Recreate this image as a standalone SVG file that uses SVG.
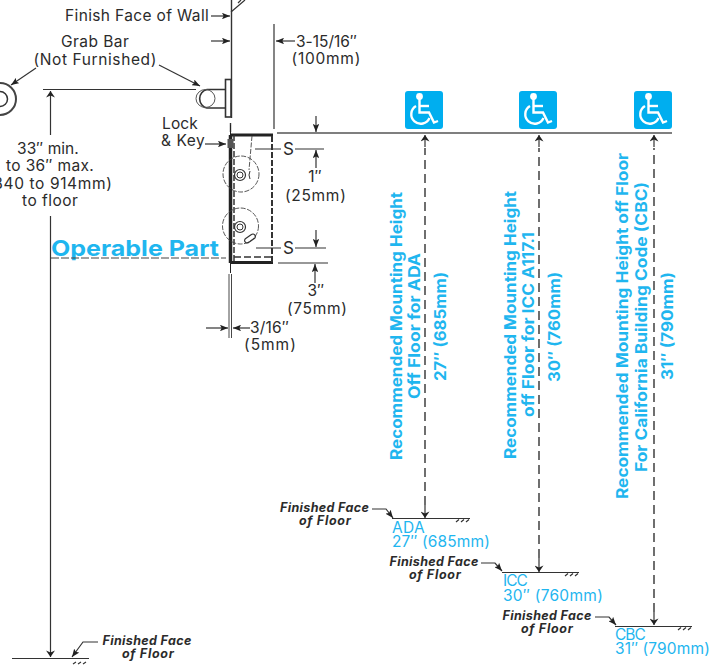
<svg xmlns="http://www.w3.org/2000/svg" width="719" height="667" viewBox="0 0 719 667">
<style>
text{font-family:Inter,"Liberation Sans",sans-serif;fill:#2b2b2b;font-size:15.500px;letter-spacing:.2px}
.m{text-anchor:middle}
.ff{font-weight:700;font-style:italic;font-size:12.500px;text-anchor:middle}
.b{fill:#1fb6ef;font-size:15.500px}
.r{fill:#1fb6ef;font-weight:700;font-size:16px;text-anchor:middle;letter-spacing:0}
.l{fill:none;stroke:#333;stroke-width:1.200}
.d{fill:none;stroke:#222;stroke-width:1.300;stroke-dasharray:9 5}
.th{fill:none;stroke:#222;stroke-width:3}
.dt{fill:none;stroke:#333;stroke-width:2;stroke-dasharray:6 2}
.c{fill:none;stroke:#444;stroke-width:.9;stroke-dasharray:5 1.500}
.icon{fill:#00aeef}
.w{fill:none;stroke:#fff;stroke-width:2.400}
</style>
<defs>
<marker id="a" viewBox="0 0 10 8" refX="10" refY="4" markerWidth="8" markerHeight="6.500" orient="auto" markerUnits="userSpaceOnUse"><path d="M0 0L10 4L0 8L2 4Z" fill="#222"/></marker>
<marker id="ab" viewBox="0 0 10 14" refX="10" refY="7" markerWidth="12" markerHeight="9" orient="auto" markerUnits="userSpaceOnUse"><path d="M0 0L10 7L0 14L3 7Z" fill="#222"/></marker>
<g id="wc">
<rect x="0" y="0" width="38" height="38" rx="3" class="icon"/>
<circle cx="14.500" cy="5.500" r="3.400" fill="#fff"/>
<path d="M14.500 8V21.500H24L29 31.500L33 30" class="w"/>
<path d="M14.500 15H24" class="w"/>
<path d="M11 15A9.500 9.500 0 1 0 24.500 27" class="w"/>
</g>
</defs>
<g id="connectors">
<path class="l" d="M231.500 0V118M230.500 123V132" style="stroke-width:1.400"/>
<path class="l" d="M231 12L245 0M238 3L241 0"/>
<path class="l" d="M211 16H230" marker-end="url(#a)"/>
<path class="l" d="M211 41H230" marker-end="url(#a)"/>
<path class="l" d="M274 24V129"/>
<path class="l" d="M295 41H276" marker-end="url(#a)"/>
<path class="l" d="M36 68L11 85" marker-end="url(#a)"/>
<path class="l" d="M159 65L200 86" marker-end="url(#a)"/>
<path class="l" d="M43 89.500H196"/>
<path class="l" d="M50.500 135V91" marker-end="url(#ab)"/>
<path class="l" d="M50.500 216V657" marker-end="url(#ab)"/>
<path class="l" d="M12 658.500H89"/>
<path class="l" d="M76 662L73 664M81 662L78 664M86 662L83 664"/>
<path class="l" d="M98 642H83L72 657" marker-end="url(#a)"/>
<path class="l" d="M205 144H226" marker-end="url(#a)"/>
<path class="l" d="M277 133H672" style="stroke-width:1.500;stroke:#555"/>
<path class="l" d="M316 116V132" marker-end="url(#a)"/>
<path class="l" d="M255 149H281M295 149H324"/>
<path class="l" d="M316 168V150" marker-end="url(#a)"/>
<path class="l" d="M256 248H281M295 248H326"/>
<path class="l" d="M316 230V247" marker-end="url(#a)"/>
<path class="l" d="M278 263H328"/>
<path class="l" d="M315 283V264" marker-end="url(#a)"/>
<path class="l" d="M229 274V338M231.500 274V338" style="stroke-width:.9"/>
<path class="l" d="M206 328H228" marker-end="url(#a)"/>
<path class="l" d="M250 328H233" marker-end="url(#a)"/>
<path class="d" d="M425 505V148"/><path class="l" d="M425 147V135" marker-end="url(#ab)"/>
<path class="l" d="M425 505V518" marker-end="url(#ab)"/>
<path class="d" d="M539 558V148"/><path class="l" d="M539 147V135" marker-end="url(#ab)"/>
<path class="l" d="M539 558V572" marker-end="url(#ab)"/>
<path class="d" d="M654 612V148"/><path class="l" d="M654 147V135" marker-end="url(#ab)"/>
<path class="l" d="M654 612V625" marker-end="url(#ab)"/>
<path class="l" d="M392 518.500H470M456 522L459 519.500M461 522L464 519.500M466 522L469 519.500"/>
<path class="l" d="M372 509H386L393 518" marker-end="url(#a)"/>
<path class="l" d="M502 572.500H579M565 576L568 573.500M570 576L573 573.500M575 576L578 573.500"/>
<path class="l" d="M481 563H495L502 571" marker-end="url(#a)"/>
<path class="l" d="M615 626.500H692M678 630L681 627.500M683 630L686 627.500M688 630L691 627.500"/>
<path class="l" d="M595 617H609L616 625" marker-end="url(#a)"/>
</g>
<g id="grab-bar">
<circle cx="0" cy="99" r="16" fill="none" stroke="#444" stroke-width="2"/>
<circle cx="0" cy="99" r="7.500" fill="none" stroke="#333" stroke-width="1.500"/>
<path d="M225 89.500H207A9.500 9.500 0 0 0 207 108H225" fill="none" stroke="#333" stroke-width="1.600"/>
<ellipse cx="205.500" cy="98.500" rx="9.500" ry="9" fill="none" stroke="#555" stroke-width="1"/>
<rect x="225.500" y="79.500" width="5.500" height="37.500" fill="#fff" stroke="#333" stroke-width="1.600"/>
</g>
<g id="dispenser">
<path class="th" d="M231 135H273"/><path class="th" d="M231 262.500H273"/>
<path d="M230.500 125V273" stroke="#222" stroke-width="1" fill="none"/>
<path d="M230.500 135V263" stroke="#222" stroke-width="3.500" fill="none"/>
<path d="M234 135V262" stroke="#333" stroke-width="1.500" fill="none" stroke-dasharray="6 2"/>
<path class="dt" d="M272 136V262"/>
<path class="l" d="M234 257H272" style="stroke-dasharray:7 3;stroke-width:1.300"/>
<path class="c" d="M252 136L249 170"/>
<rect x="227.500" y="139" width="6" height="9" fill="#555"/>
<circle cx="241" cy="174" r="18" class="c"/>
<circle cx="240.500" cy="226" r="18" class="c"/>
<circle cx="240" cy="175" r="5.500" fill="none" stroke="#333" stroke-width="1.200"/>
<circle cx="240" cy="175" r="3" fill="none" stroke="#333" stroke-width="1"/>
<circle cx="240" cy="227" r="5.500" fill="none" stroke="#333" stroke-width="1.200"/>
<circle cx="240" cy="227" r="3" fill="none" stroke="#333" stroke-width="1"/>
<path d="M250 171Q248 175 250 179" fill="none" stroke="#333" stroke-width="1"/>
<rect x="-2.500" y="-6" width="5" height="12" rx="2.500" transform="translate(250 238.500) rotate(55)" fill="none" stroke="#333" stroke-width="1.200"/>
</g>
<g id="symbols">
<use href="#wc" x="405" y="91"/>
<use href="#wc" x="519" y="91"/>
<use href="#wc" x="634" y="91"/>
</g>
<g id="labels">
<text x="65" y="21" textLength="144">Finish Face of Wall</text>
<text x="95" y="47" class="m" textLength="68">Grab Bar</text>
<text x="95" y="65" class="m" textLength="123">(Not Furnished)</text>
<text x="296" y="47" textLength="61">3-15/16″</text>
<text x="326" y="64" class="m" textLength="69">(100mm)</text>
<text x="180" y="129" class="m" textLength="36">Lock</text>
<text x="183" y="146" class="m" textLength="44">&amp; Key</text>
<text x="48" y="154" class="m" textLength="62">33″ min.</text>
<text x="50" y="171" class="m" textLength="88">to 36″ max.</text>
<text x="49.500" y="189" class="m" textLength="125">(840 to 914mm)</text>
<text x="50" y="206" class="m" textLength="56">to floor</text>
<text x="288.500" y="155" class="m" style="font-size:17px">S</text>
<text x="288.500" y="254" class="m" style="font-size:17px">S</text>
<text x="315" y="182" class="m">1″</text>
<text x="315.500" y="201" class="m" textLength="61">(25mm)</text>
<text x="316" y="296" class="m">3″</text>
<text x="317" y="314" class="m" textLength="60">(75mm)</text>
<text x="250" y="333" textLength="39">3/16″</text>
<text x="270" y="350" class="m" textLength="52">(5mm)</text>
<text x="51" y="256" style="fill:#1fb6ef;font-weight:700;font-size:22px;letter-spacing:0" textLength="168" lengthAdjust="spacingAndGlyphs">Operable Part</text>
<path d="M51 258H226" stroke="#444" stroke-width="1" stroke-dasharray="8 2" fill="none"/>
<text class="r" transform="translate(401.500 326) rotate(-90)" textLength="268" lengthAdjust="spacingAndGlyphs">Recommended Mounting Height</text>
<text class="r" transform="translate(420 326) rotate(-90)" textLength="146" lengthAdjust="spacingAndGlyphs">Off Floor for ADA</text>
<text class="r" transform="translate(446 326.500) rotate(-90)" textLength="109" lengthAdjust="spacingAndGlyphs">27″ (685mm)</text>
<text class="r" transform="translate(516 325) rotate(-90)" textLength="268" lengthAdjust="spacingAndGlyphs">Recommended Mounting Height</text>
<text class="r" transform="translate(534 324.500) rotate(-90)" textLength="185" lengthAdjust="spacingAndGlyphs">off Floor for ICC A117.1</text>
<text class="r" transform="translate(560 327) rotate(-90)" textLength="110" lengthAdjust="spacingAndGlyphs">30″ (760mm)</text>
<text class="r" transform="translate(628 326) rotate(-90)" textLength="346" lengthAdjust="spacingAndGlyphs">Recommended Mounting Height off Floor</text>
<text class="r" transform="translate(647 327) rotate(-90)" textLength="290" lengthAdjust="spacingAndGlyphs">For California Building Code (CBC)</text>
<text class="r" transform="translate(673 326) rotate(-90)" textLength="108" lengthAdjust="spacingAndGlyphs">31″ (790mm)</text>
<text class="ff" x="324.500" y="512" textLength="89">Finished Face</text>
<text class="ff" x="325" y="525" textLength="52">of Floor</text>
<text class="ff" x="434" y="566" textLength="89">Finished Face</text>
<text class="ff" x="435" y="579" textLength="52">of Floor</text>
<text class="ff" x="547" y="620" textLength="89">Finished Face</text>
<text class="ff" x="547" y="633" textLength="52">of Floor</text>
<text class="ff" x="147" y="645" textLength="89">Finished Face</text>
<text class="ff" x="148" y="658" textLength="52">of Floor</text>
<text class="b" x="392" y="533" textLength="33">ADA</text>
<text class="b" x="392" y="547" textLength="98">27″ (685mm)</text>
<text class="b" x="503" y="586" textLength="25">ICC</text>
<text class="b" x="503" y="601" textLength="100">30″ (760mm)</text>
<text class="b" x="615" y="640" textLength="31">CBC</text>
<text class="b" x="615" y="654" textLength="95">31″ (790mm)</text>
</g>
</svg>
